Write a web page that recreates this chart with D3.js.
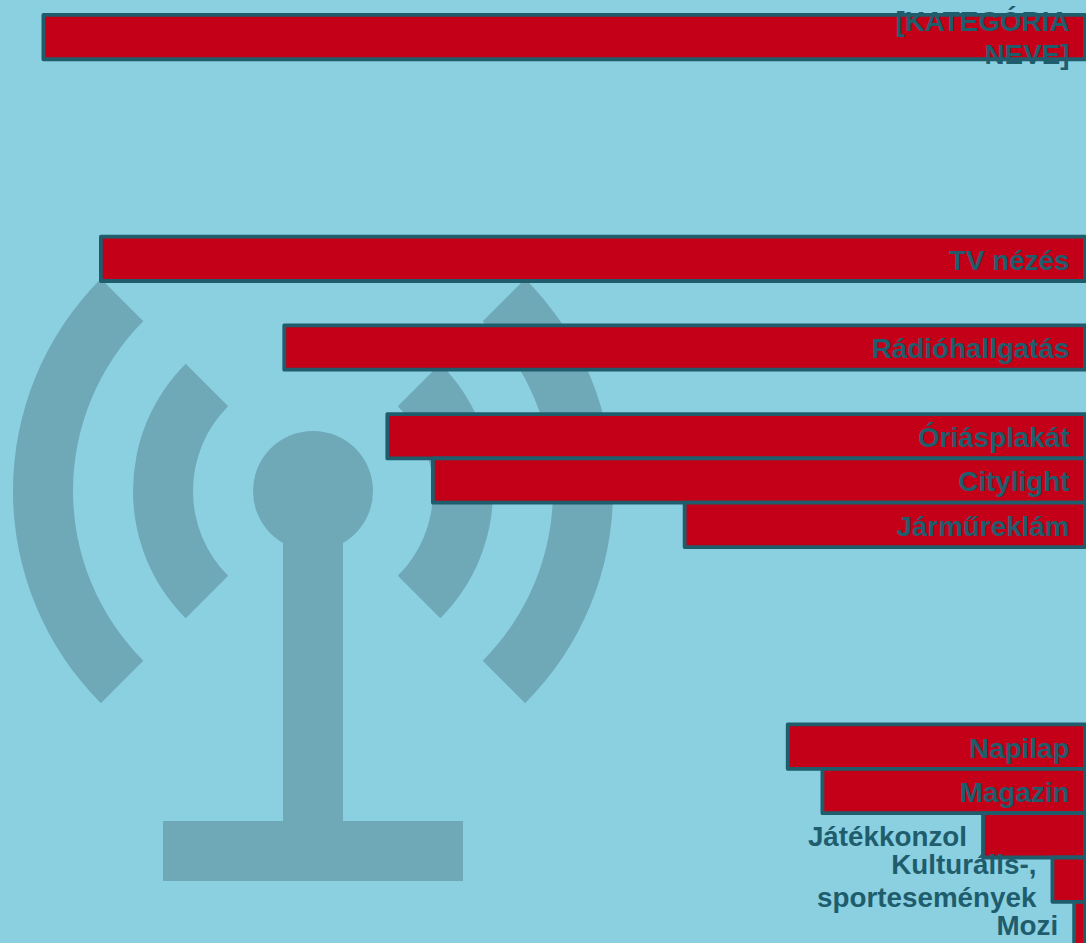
<!DOCTYPE html>
<html><head><meta charset="utf-8">
<script src="https://cdnjs.cloudflare.com/ajax/libs/d3/7.8.5/d3.min.js"></script>
<style>html,body{margin:0;padding:0;background:#8ad0e1;overflow:hidden}svg{display:block}</style>
</head><body><svg id="c" width="1086" height="943"></svg>
<script>
const categories = [["[KATEGÓRIA","NEVE]"],null,null,null,null,["TV nézés"],null,["Rádióhallgatás"],null,["Óriásplakát"],["Citylight"],["Járműreklám"],null,null,null,null,["Napilap"],["Magazin"],["Játékkonzol"],["Kulturális-,","sportesemények"],["Mozi"]];
const values = [96.0,null,null,null,null,90.7,null,73.8,null,64.3,60.1,36.9,null,null,null,null,27.4,24.2,9.4,3.0,1.0];
const W=1086,H=943;
const bg="#8ad0e1",barFill="#c30017",ink="#1f5d6d",iconFill="#6fa8b7";
const svg=d3.select("#c");
svg.append("rect").attr("width",W).attr("height",H).attr("fill",bg);

// background antenna icon
const cx=313,cy=491,band=60;
const icon=svg.append("g").attr("fill",iconFill);
[[240,300],[120,180]].forEach(([ri,ro])=>{
  [[-Math.PI*3/4,-Math.PI/4],[Math.PI/4,Math.PI*3/4]].forEach(([a0,a1])=>{
    icon.append("path").attr("transform",`translate(${cx},${cy})`)
      .attr("d",d3.arc()({innerRadius:ri,outerRadius:ro,startAngle:a0,endAngle:a1}));
  });
});
icon.append("circle").attr("cx",cx).attr("cy",cy).attr("r",band);
icon.append("rect").attr("x",cx-band/2).attr("y",cy).attr("width",band).attr("height",340);
icon.append("rect").attr("x",cx-150).attr("y",821).attr("width",300).attr("height",60);

// reversed value axis: bars grow leftward from the right edge
const x=d3.scaleLinear().domain([0,100]).range([1085,0]);
const y=d3.scaleBand().domain(d3.range(categories.length)).range([14.9,946.2]).padding(0);
const rows=categories.map((c,i)=>({c,v:values[i],i})).filter(d=>d.c);

svg.append("g").selectAll("rect").data(rows).join("rect")
  .attr("x",d=>x(d.v)).attr("y",d=>y(d.i))
  .attr("width",d=>x(0)-x(d.v)).attr("height",y.bandwidth())
  .attr("fill",barFill).attr("stroke",ink).attr("stroke-width",3.8).attr("stroke-linejoin","round");

const fs=27.8,lh=33;
const lab=svg.append("g").attr("font-family","'Liberation Sans',Arial,sans-serif")
  .attr("font-weight","700").attr("font-size",fs).attr("fill",ink).attr("text-anchor","end");
rows.forEach(d=>{
  const outside=d.v<15;
  const ax=outside?x(d.v)-16:x(0)-15.5;
  const mid=y(d.i)+y.bandwidth()/2;
  const t=lab.append("text");
  const n=d.c.length;
  d.c.forEach((s,k)=>{
    t.append("tspan").attr("x",ax).attr("y",mid+fs*0.355+1+(k-(n-1)/2)*lh).text(s);
  });
});
</script></body></html>
